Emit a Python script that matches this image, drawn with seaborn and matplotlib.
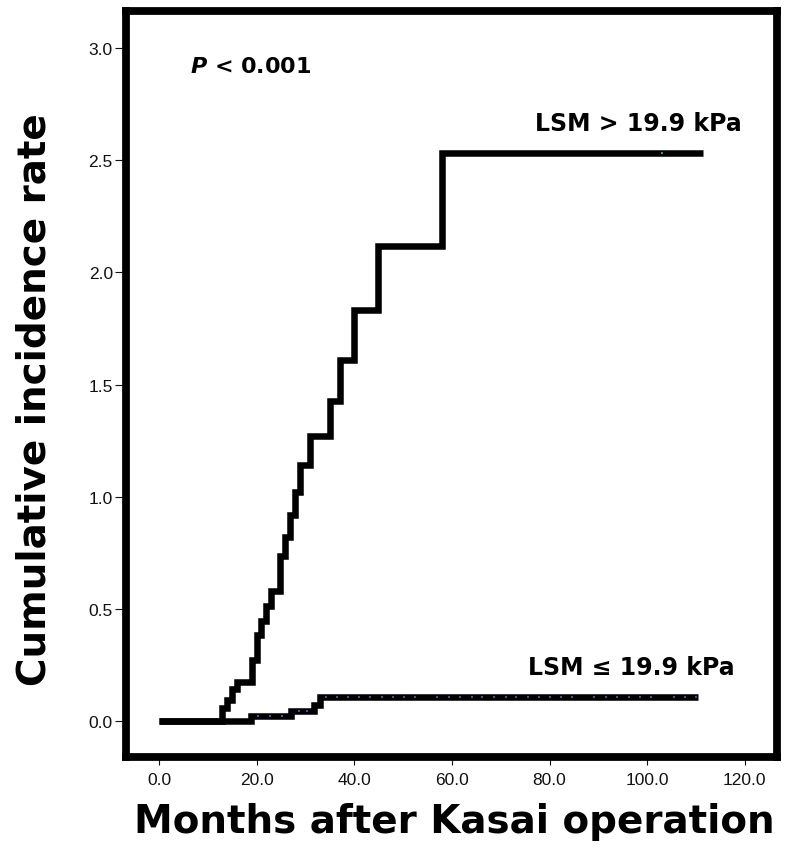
import numpy as np
import pandas as pd
import matplotlib
matplotlib.use('Agg')
import matplotlib.pyplot as plt
import seaborn as sns

# step curves (months, cumulative incidence)
months_high = [0, 12.9, 13.9, 15.0, 16.0, 19.0, 20.0, 20.9, 21.9, 23.0, 24.8, 25.8, 26.8,
               27.9, 28.8, 30.9, 35.0, 37.0, 39.9, 44.9, 57.9, 111.4]
rate_high = [0, 0.058, 0.093, 0.141, 0.176, 0.273, 0.384, 0.446, 0.511, 0.578, 0.737, 0.822,
             0.917, 1.023, 1.143, 1.270, 1.425, 1.610, 1.831, 2.116, 2.533, 2.533]

months_low = [0, 18.8, 27.0, 31.7, 32.9, 110.5]
rate_low = [0, 0.024, 0.047, 0.072, 0.107, 0.107]

# censored cases
censor_low = [20.3, 22.7, 25.1, 28.6, 30.2, 34.1, 36.4, 38.6, 40.9, 43.2, 45.6, 48.0, 50.1,
              52.5, 56.9, 59.3, 61.7, 64.0, 66.2, 68.6, 71.0, 73.2, 75.5, 77.8, 80.1, 82.3,
              84.6, 89.2, 91.5, 93.9, 96.2, 98.5, 100.8, 105.5, 107.8, 110.0]
censor_high = [103.0]

x_ticks = [0, 20, 40, 60, 80, 100, 120]
y_ticks = [0.0, 0.5, 1.0, 1.5, 2.0, 2.5, 3.0]

df_high = pd.DataFrame({'months': months_high, 'rate': rate_high})
df_low = pd.DataFrame({'months': months_low, 'rate': rate_low})


def step_value(times, values, t):
    idx = np.searchsorted(times, t, side='right') - 1
    return np.asarray(values)[idx]


cens_low_df = pd.DataFrame({'months': censor_low,
                            'rate': step_value(months_low, rate_low, censor_low)})
cens_high_df = pd.DataFrame({'months': censor_high,
                             'rate': step_value(months_high, rate_high, censor_high)})

sns.set_theme(style='white')
plt.rcParams['font.family'] = ['DejaVu Sans']
plt.rcParams['text.color'] = 'black'

fig, ax = plt.subplots(figsize=(7.89, 8.54), dpi=100)
ax.set_position([0.1597, 0.1124, 0.8251, 0.8736])

line_kw = dict(color='black', lw=4.7, estimator=None, sort=False,
               drawstyle='steps-post', solid_joinstyle='miter', solid_capstyle='butt')
sns.lineplot(data=df_high, x='months', y='rate', ax=ax, **line_kw)
sns.lineplot(data=df_low, x='months', y='rate', ax=ax, **line_kw)

sns.scatterplot(data=cens_low_df, x='months', y='rate', ax=ax, marker='s', s=3,
                color='#4a4f9a', linewidth=0, zorder=5)
sns.scatterplot(data=cens_high_df, x='months', y='rate', ax=ax, marker='s', s=3,
                color='#3c9a5a', linewidth=0, zorder=5)

ax.set_xlim(-6.8, 126.6)
ax.set_ylim(-0.16, 3.165)
ax.set_xticks(x_ticks)
ax.set_yticks(y_ticks)
ax.set_xticklabels([f'{v:.1f}' for v in x_ticks])
ax.set_yticklabels([f'{v:.1f}' for v in y_ticks])

for s in ax.spines.values():
    s.set_linewidth(5.6)
    s.set_color('black')

ax.tick_params(axis='x', direction='out', length=6, width=0.8, pad=5, colors='#111111',
               bottom=True, labelsize=12.5)
ax.tick_params(axis='y', direction='out', length=8, width=0.8, pad=1.5, colors='#111111',
               left=True, labelsize=12.5)
for lbl in ax.get_xticklabels() + ax.get_yticklabels():
    lbl.set_fontfamily('Liberation Sans')

ax.set_xlabel('Months after Kasai operation', fontsize=28, fontweight='bold', color='black')
ax.set_ylabel('Cumulative incidence rate', fontsize=28, fontweight='bold', color='black')
ax.xaxis.set_label_coords(0.504, -0.06)
ax.yaxis.set_label_coords(-0.112, 0.48)

ax.text(6.3, 2.92, r'$\mathbfit{P}$ < 0.001', fontsize=16, fontweight='bold',
        ha='left', va='center', color='black')
ax.text(98.1, 2.666, 'LSM > 19.9 kPa', fontsize=17, fontweight='bold', ha='center',
        va='center', color='black')
ax.text(96.7, 0.243, 'LSM ≤ 19.9 kPa', fontsize=17, fontweight='bold', ha='center',
        va='center', color='black')

ax.grid(False)
fig.savefig('out.png', dpi=100)
